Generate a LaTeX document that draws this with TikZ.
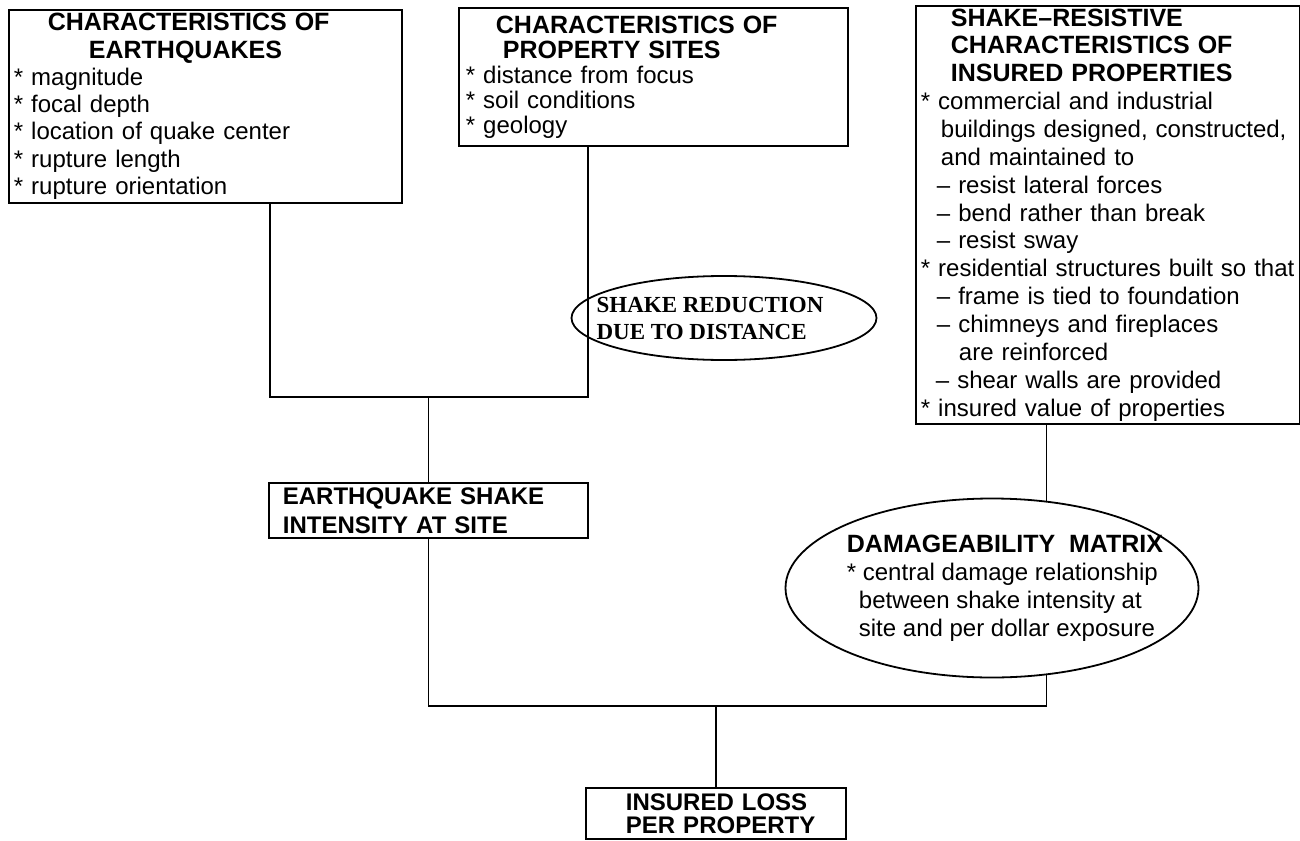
\documentclass[tikz,border=0pt]{standalone}
\usepackage{fontspec}
\setmainfont{Liberation Sans}
\newfontfamily\serifhead{Liberation Serif}
\usepackage{tikz}
\usetikzlibrary{positioning,shapes.geometric}
\newcommand\headtxt[1]{{\fontsize{12.5pt}{14pt}\selectfont\bfseries #1}}

\begin{document}
\begin{tikzpicture}[x=0.5pt,y=-0.5pt,
  box/.style={draw,line width=0.9pt,anchor=north west,align=left,inner ysep=0pt},
  oval/.style={draw,line width=0.9pt,ellipse,align=left,inner ysep=0pt},
  link/.style={line width=0.9pt}]
\useasboundingbox (0,0) rectangle (1300,840);

\node[box,minimum width=196.5pt,minimum height=96.5pt,text width=191.5pt,inner xsep=2.5pt,font=\fontsize{12pt}{13.65pt}\selectfont] (quake) at (8,9)
 {\hspace*{17pt}\headtxt{CHARACTERISTICS OF}\\
  \hspace*{37.5pt}\headtxt{EARTHQUAKES}\\
  {*} magnitude\\
  {*} focal depth\\
  {*} location of quake center\\
  {*} rupture length\\
  {*} rupture orientation};
\node[box,minimum width=194.5pt,minimum height=69pt,text width=187.5pt,inner xsep=3.5pt,font=\fontsize{12pt}{12.5pt}\selectfont] (sites) at (458,7)
 {\hspace*{15pt}\headtxt{CHARACTERISTICS OF}\\
  \hspace*{18.5pt}\headtxt{PROPERTY SITES}\\
  {*} distance from focus\\
  {*} soil conditions\\
  {*} geology};
\node[box,minimum width=192pt,minimum height=209pt,text width=187pt,inner xsep=2.5pt,font=\fontsize{12pt}{13.93pt}\selectfont] (props) at (915,5)
 {\hspace*{15pt}\headtxt{SHAKE--RESISTIVE}\\
  \hspace*{15pt}\headtxt{CHARACTERISTICS OF}\\
  \hspace*{15pt}\headtxt{INSURED PROPERTIES}\\
  {*} commercial and industrial\\
  \hspace*{10pt}buildings designed, constructed,\\
  \hspace*{10pt}and maintained to\\
  \hspace*{8pt}-- resist lateral forces\\
  \hspace*{8pt}-- bend rather than break\\
  \hspace*{8pt}-- resist sway\\
  {*} residential structures built so that\\
  \hspace*{8pt}-- frame is tied to foundation\\
  \hspace*{8pt}-- chimneys and fireplaces\\
  \hspace*{19pt}are reinforced\\
  \hspace*{7.5pt}-- shear walls are provided\\
  {*} insured value of properties};
\node[oval,minimum width=152.5pt,minimum height=42pt,inner xsep=0pt,font=\serifhead\bfseries\fontsize{11.5pt}{13.5pt}\selectfont] (reduce) at (724,318)
 {\hspace*{-14pt}SHAKE REDUCTION\\\hspace*{-14pt}DUE TO DISTANCE};
\node[box,minimum width=159.5pt,minimum height=27.5pt,text width=145.5pt,inner xsep=7pt,font=\fontsize{12pt}{14.5pt}\selectfont\bfseries] (shake) at (268,482)
 {EARTHQUAKE SHAKE\\INTENSITY AT SITE};
\node[oval,minimum width=206.5pt,minimum height=89.5pt,inner xsep=-14.5pt,font=\fontsize{12pt}{14pt}\selectfont] (damage) at (992,588)
 {\hspace*{13pt}\headtxt{DAMAGEABILITY\ \ MATRIX}\\
  \hspace*{13pt}{*} central damage relationship\\
  \hspace*{19pt}between shake intensity at\\
  \hspace*{19pt}site and per dollar exposure};
\node[box,minimum width=130pt,minimum height=25.5pt,text width=102pt,inner xsep=14pt,font=\fontsize{12pt}{11.5pt}\selectfont\bfseries] (loss) at (585,787)
 {\hspace*{6pt}INSURED LOSS\\\hspace*{6pt}PER PROPERTY};

\coordinate (qjoin) at (270,397);
\coordinate (sjoin) at (588,397);
\coordinate (ljoin) at (0,706);
\draw[link] (quake.south -| qjoin) -- (qjoin) -- (sjoin) -- (sites.south -| sjoin);
\draw[link] (shake.north) -- (shake.north |- qjoin);
\draw[link] (props.south -| damage.58) -- (damage.58);
\draw[link] (shake.south) |- (damage.-58 |- ljoin) -- (damage.-58);
\draw[link] (loss.north) -- (loss.north |- ljoin);
\end{tikzpicture}
\end{document}
